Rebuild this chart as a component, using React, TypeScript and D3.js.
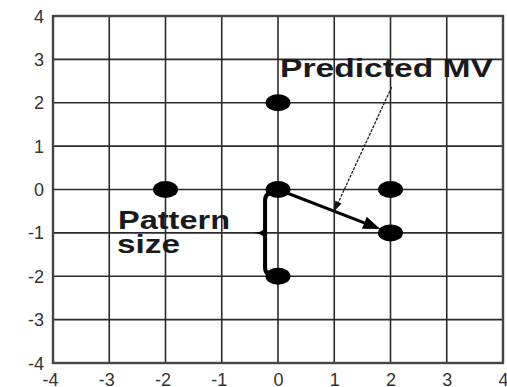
import React from "react";
import * as d3 from "d3";

const xTicks = [-4, -3, -2, -1, 0, 1, 2, 3, 4];
const yTicks = [-4, -3, -2, -1, 0, 1, 2, 3, 4];
const pointX = [0, -2, 0, 2, 0, 2];
const pointY = [2, 0, 0, 0, -2, -1];
const mvFrom = [0, 0];
const mvTo = [2, -1];
const pointerFrom = [2.02, 2.36];
const pointerTo = [1, -0.5];
const braceX = -0.23;
const braceTop = 0;
const braceBottom = -2;
const braceMid = -1;

const W = 507;
const H = 387;
const left = 53, right = 503, top = 16, bottom = 363;

function arrowHead(x1: number, y1: number, x2: number, y2: number, len: number, half: number) {
  const dx = x2 - x1, dy = y2 - y1;
  const L = Math.hypot(dx, dy);
  const ux = dx / L, uy = dy / L;
  const bx = x2 - ux * len, by = y2 - uy * len;
  const px = -uy, py = ux;
  return {
    base: [bx, by],
    pts: `${x2},${y2} ${bx + px * half},${by + py * half} ${bx - px * half},${by - py * half}`,
  };
}

export default function App() {
  const x = d3.scaleLinear().domain([-4, 4]).range([left, right]);
  const y = d3.scaleLinear().domain([-4, 4]).range([bottom, top]);
  const font = "'Liberation Sans', Arial, sans-serif";

  const sx = x(mvFrom[0]), sy = y(mvFrom[1]);
  const cx = x(mvTo[0]), cy = y(mvTo[1]);
  const dL = Math.hypot(cx - sx, cy - sy);
  const tipX = cx - ((cx - sx) / dL) * 11;
  const tipY = cy - ((cy - sy) / dL) * 11;
  const mvHead = arrowHead(sx, sy, tipX, tipY, 17, 6.5);

  const p1x = x(pointerFrom[0]), p1y = y(pointerFrom[1]);
  const p2x = x(pointerTo[0]), p2y = y(pointerTo[1]);
  const pHead = arrowHead(p1x, p1y, p2x, p2y, 10, 3.5);

  const bx = x(braceX);
  const bt = y(braceTop) + 3;
  const bb = y(braceBottom) - 1;
  const bm = y(braceMid);
  const bcx = x(0) - 4;
  const bracePath = `M${bcx},${bt} Q${bx},${bt} ${bx},${bt + 8} L${bx},${bb - 8} Q${bx},${bb} ${bcx},${bb}`;
  const nub = `M${bx},${bm - 7} Q${bx - 1},${bm - 1} ${bx - 11},${bm} Q${bx - 1},${bm + 1} ${bx},${bm + 7} Z`;

  return (
    <div style={{ position: "fixed", left: 0, top: 0 }}>
      <svg width={W} height={H} style={{ display: "block", background: "#fff" }}>
        <rect x={0} y={0} width={W} height={H} fill="#fff" />
        {xTicks.map((t) => (
          <line key={"gx" + t} x1={x(t)} x2={x(t)} y1={top} y2={bottom} stroke="#2a2a2a" strokeWidth={1.6} />
        ))}
        {yTicks.map((t) => (
          <line key={"gy" + t} x1={left} x2={right} y1={y(t)} y2={y(t)} stroke="#2a2a2a" strokeWidth={1.6} />
        ))}
        <rect x={left} y={top} width={right - left} height={bottom - top} fill="none" stroke="#444" strokeWidth={2.4} />
        {yTicks.map((t) => (
          <text key={"ty" + t} x={44} y={y(t) + 6.5} textAnchor="end" fontFamily={font} fontSize={18} fill="#333">
            {t}
          </text>
        ))}
        {xTicks.map((t) => (
          <text key={"tx" + t} x={x(t) + 5.5} y={386} textAnchor="end" fontFamily={font} fontSize={18} fill="#333">
            {t}
          </text>
        ))}
        <line x1={sx} y1={sy} x2={mvHead.base[0]} y2={mvHead.base[1]} stroke="#000" strokeWidth={3} />
        <polygon points={mvHead.pts} fill="#000" />
        <path d={bracePath} fill="none" stroke="#000" strokeWidth={4} />
        <path d={nub} fill="#000" />
        {pointX.map((px, i) => (
          <ellipse key={"p" + i} cx={x(px)} cy={y(pointY[i])} rx={12.5} ry={8.5} fill="#000" />
        ))}
        <line x1={p1x} y1={p1y} x2={pHead.base[0]} y2={pHead.base[1]} stroke="#222" strokeWidth={1.3} strokeDasharray="3,1.2" />
        <polygon points={pHead.pts} fill="#111" />
        <text x={280} y={77} fontFamily={font} fontSize={26} fontWeight="bold" fill="#1a1a1a" textLength={213} lengthAdjust="spacingAndGlyphs">
          Predicted MV
        </text>
        <text x={118} y={229} fontFamily={font} fontSize={25} fontWeight="bold" fill="#1a1a1a" textLength={112} lengthAdjust="spacingAndGlyphs">
          Pattern
        </text>
        <text x={117} y={253} fontFamily={font} fontSize={25} fontWeight="bold" fill="#1a1a1a" textLength={63} lengthAdjust="spacingAndGlyphs">
          size
        </text>
      </svg>
    </div>
  );
}
